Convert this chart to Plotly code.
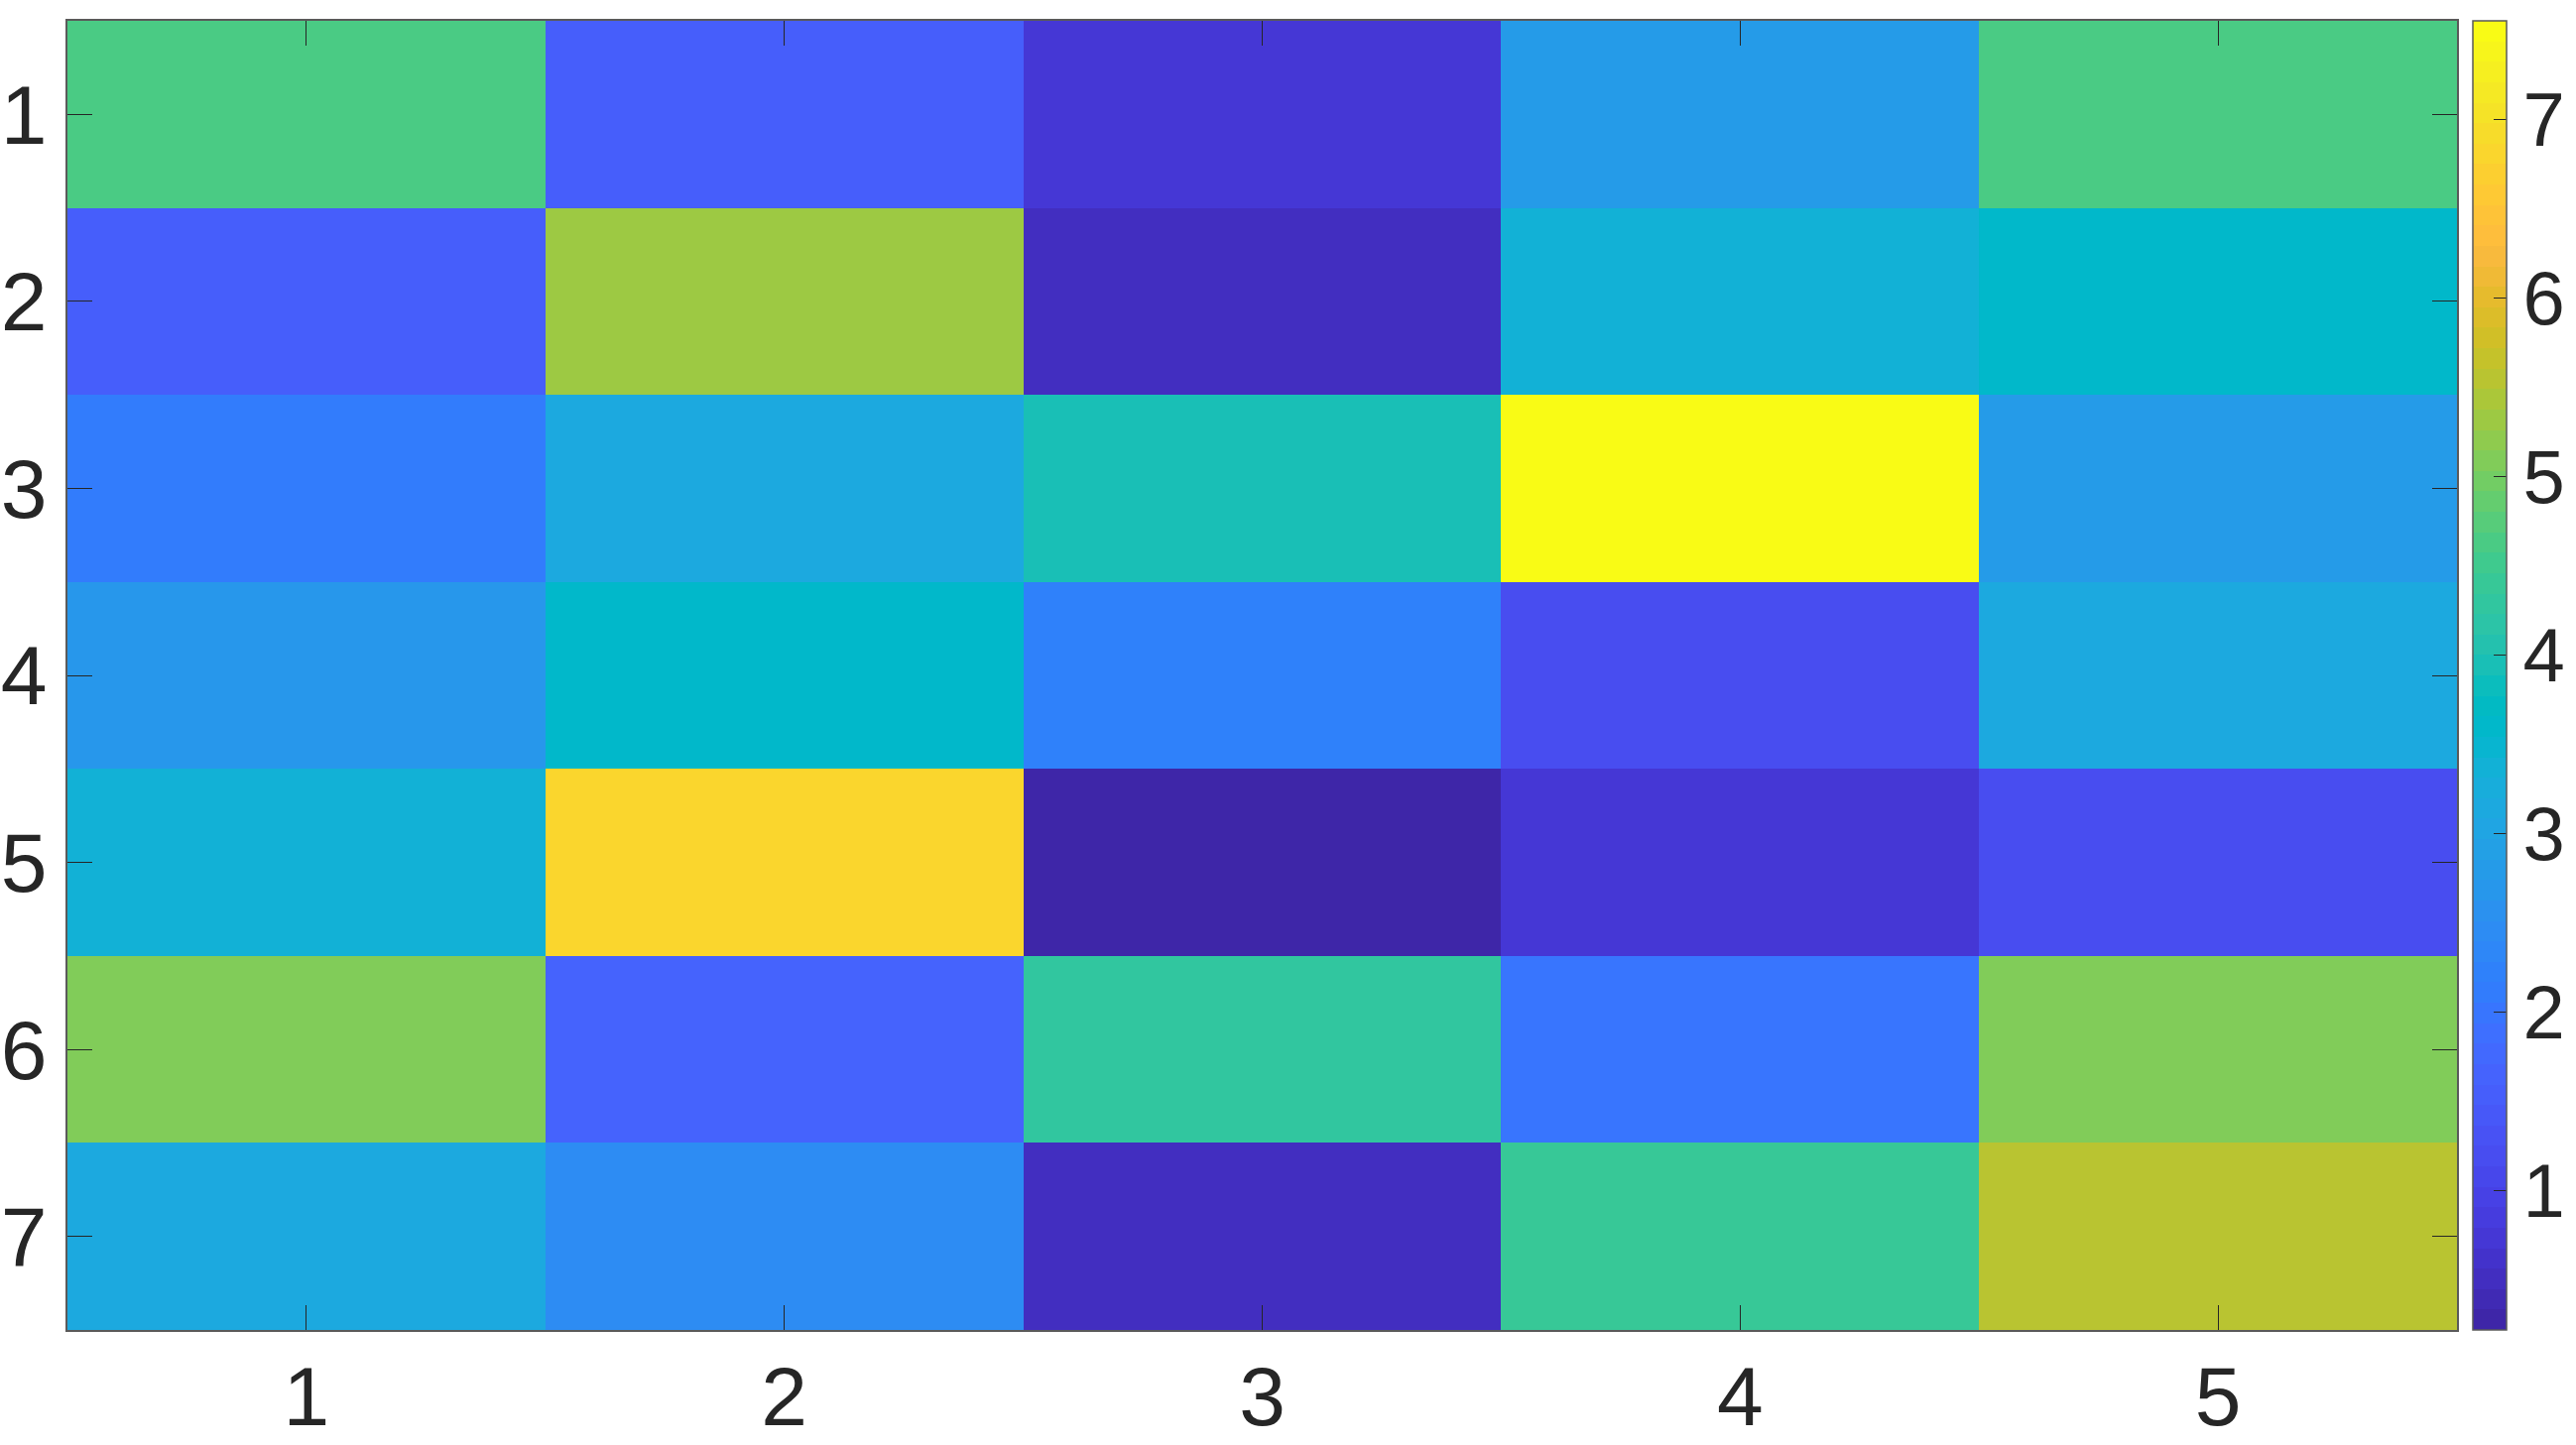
import plotly.graph_objects as go

cols = [1, 2, 3, 4, 5]
rows = [1, 2, 3, 4, 5, 6, 7]
row1 = [4.64, 1.53, 0.72, 2.80, 4.64]
row2 = [1.55, 5.34, 0.49, 3.38, 3.61]
row3 = [2.16, 3.09, 3.95, 7.55, 2.76]
row4 = [2.68, 3.61, 2.28, 1.24, 3.15]
row5 = [3.38, 6.84, 0.22, 0.72, 1.18]
row6 = [5.05, 1.64, 4.30, 2.05, 5.05]
row7 = [3.15, 2.51, 0.49, 4.38, 5.52]
cbar_ticks = [1, 2, 3, 4, 5, 6, 7]

parula = [
    (0.2422, 0.1504, 0.6603), (0.2504, 0.1650, 0.7076), (0.2578, 0.1818, 0.7511), (0.2647, 0.1978, 0.7952),
    (0.2706, 0.2147, 0.8364), (0.2751, 0.2342, 0.8710), (0.2783, 0.2559, 0.8991), (0.2803, 0.2782, 0.9221),
    (0.2813, 0.3006, 0.9414), (0.2810, 0.3228, 0.9579), (0.2795, 0.3447, 0.9717), (0.2760, 0.3667, 0.9829),
    (0.2699, 0.3892, 0.9906), (0.2602, 0.4123, 0.9952), (0.2440, 0.4358, 0.9988), (0.2206, 0.4603, 0.9973),
    (0.1963, 0.4847, 0.9892), (0.1834, 0.5074, 0.9798), (0.1786, 0.5289, 0.9682), (0.1764, 0.5499, 0.9520),
    (0.1687, 0.5703, 0.9359), (0.1540, 0.5902, 0.9218), (0.1460, 0.6091, 0.9079), (0.1380, 0.6276, 0.8973),
    (0.1248, 0.6459, 0.8883), (0.1113, 0.6635, 0.8763), (0.0952, 0.6798, 0.8598), (0.0689, 0.6948, 0.8394),
    (0.0297, 0.7082, 0.8163), (0.0036, 0.7203, 0.7917), (0.0067, 0.7312, 0.7660), (0.0433, 0.7411, 0.7394),
    (0.0964, 0.7500, 0.7120), (0.1408, 0.7584, 0.6842), (0.1717, 0.7670, 0.6554), (0.1938, 0.7758, 0.6251),
    (0.2161, 0.7843, 0.5923), (0.2470, 0.7918, 0.5567), (0.2906, 0.7973, 0.5188), (0.3406, 0.8008, 0.4789),
    (0.3909, 0.8029, 0.4354), (0.4456, 0.8024, 0.3909), (0.5044, 0.7993, 0.3480), (0.5616, 0.7942, 0.3062),
    (0.6174, 0.7876, 0.2612), (0.6720, 0.7793, 0.2227), (0.7242, 0.7698, 0.1910), (0.7738, 0.7598, 0.1646),
    (0.8203, 0.7498, 0.1535), (0.8634, 0.7406, 0.1596), (0.9035, 0.7330, 0.1774), (0.9393, 0.7288, 0.2100),
    (0.9728, 0.7298, 0.2394), (0.9956, 0.7434, 0.2371), (0.9970, 0.7659, 0.2199), (0.9952, 0.7893, 0.2028),
    (0.9892, 0.8136, 0.1885), (0.9786, 0.8386, 0.1766), (0.9676, 0.8639, 0.1643), (0.9610, 0.8890, 0.1537),
    (0.9597, 0.9135, 0.1423), (0.9628, 0.9373, 0.1265), (0.9691, 0.9606, 0.1064), (0.9769, 0.9839, 0.0805),
]
n = len(parula)
colorscale = []
for i, (r, g, b) in enumerate(parula):
    c = f"rgb({round(r*255)},{round(g*255)},{round(b*255)})"
    colorscale.append([i / n, c])
    colorscale.append([(i + 1) / n, c])

z = [row1, row2, row3, row4, row5, row6, row7]

W, H = 2597, 1457
L, R, T, B = 68, 120, 21, 116
pw = W - L - R

fig = go.Figure(go.Heatmap(
    x=cols, y=rows, z=z,
    colorscale=colorscale, zmin=0.22, zmax=7.55,
    colorbar=dict(
        x=(2493 - L) / pw, xanchor="left", xref="paper",
        y=0.5, yanchor="middle", len=1, lenmode="fraction",
        thickness=34, thicknessmode="pixels",
        xpad=0, ypad=0,
        outlinewidth=1.5, outlinecolor="rgb(90,90,90)",
        ticks="inside", ticklen=13, tickwidth=1.2, tickcolor="rgb(38,38,38)",
        tickvals=cbar_ticks,
        tickfont=dict(family="Liberation Sans, Arial", size=76, color="rgb(38,38,38)"),
        ticklabelposition="outside",
    ),
    hoverinfo="skip",
))

axfont = dict(family="Liberation Sans, Arial", size=84, color="rgb(38,38,38)")
fig.update_layout(
    width=W, height=H,
    margin=dict(l=L, r=R, t=T, b=B, autoexpand=False),
    paper_bgcolor="white", plot_bgcolor="white",
    xaxis=dict(
        range=[0.5, 5.5], tickvals=cols, ticks="inside", ticklen=25, tickwidth=1.2,
        tickcolor="rgb(38,38,38)", showline=True, linecolor="rgb(90,90,90)", linewidth=1.5,
        mirror="ticks", showgrid=False, zeroline=False, tickfont=axfont,
        ticklabelstandoff=-7,
    ),
    yaxis=dict(
        range=[7.5, 0.5], tickvals=rows, ticks="inside", ticklen=25, tickwidth=1.2,
        tickcolor="rgb(38,38,38)", showline=True, linecolor="rgb(90,90,90)", linewidth=1.5,
        mirror="ticks", showgrid=False, zeroline=False, tickfont=axfont,
        ticklabelstandoff=2,
    ),
)

fig.write_html("out.html")
